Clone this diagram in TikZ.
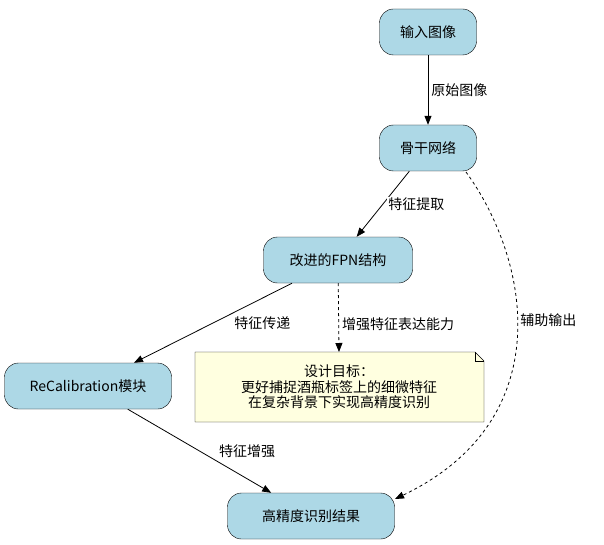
\documentclass[tikz,border=0pt]{standalone}
\usepackage{fontspec}
\setmainfont{Noto Sans CJK SC}
\usetikzlibrary{arrows.meta}
\begin{document}
\begin{tikzpicture}[x=1pt,y=-1pt,
  box/.style={draw,fill=boxc,rounded corners=14pt,minimum height=46pt,inner xsep=8pt,font=\fontsize{14}{16}\selectfont},
  lbl/.style={font=\fontsize{14}{16}\selectfont,fill=white,inner sep=1pt},
  arr/.style={-{Triangle[length=9pt,width=7pt]},line width=0.8pt}]
\definecolor{boxc}{RGB}{173,216,230}
\definecolor{notec}{RGB}{255,255,224}
\useasboundingbox (0,0) rectangle (604,545);
\node[box,minimum width=97pt] (in) at (428,32) {输入图像};
\node[box,minimum width=97pt] (bb) at (428,148) {骨干网络};
\node[box,minimum width=149pt] (fpn) at (338,260) {改进的FPN结构};
\node[box,minimum width=167pt] (rc) at (88,386) {ReCalibration模块};
\node[box,minimum width=167pt] (res) at (311,516) {高精度识别结果};
\coordinate (note) at (339,387);
\path[draw,fill=notec] (195,352) coordinate (nw) -- (475,352) -- (484,361) -- (484,422) -- (195,422) -- cycle;
\draw (475,352) -- (475,361) -- (484,361);
\node[align=center,font=\fontsize{14}{15.5}\selectfont,inner sep=2pt] (notetext) at (note) {设计目标：\\更好捕捉酒瓶标签上的细微特征\\在复杂背景下实现高精度识别};
\coordinate (notetop) at (339,352);
\draw[arr] (in) -- node[lbl,right,xshift=2pt] {原始图像} (bb);
\draw[arr] (bb) -- node[lbl,right,xshift=4pt] {特征提取} (fpn);
\draw[arr] (fpn) -- node[lbl,pos=0.5,right,xshift=20pt] {特征传递} (rc);
\draw[arr,dashed] (fpn) -- node[lbl,pos=0.6,right,xshift=2pt] {增强特征表达能力} (notetop);
\draw[arr] (rc) -- node[lbl,pos=0.6,above right,xshift=4pt] {特征增强} (res);
\coordinate (bbs) at (466,172);
\coordinate (rese) at (395,499);
\draw[arr,dashed] (bbs) .. controls (530,260) and (560,420) .. (rese) node[lbl,pos=0.45,right,xshift=2pt] {辅助输出};
\end{tikzpicture}
\end{document}
